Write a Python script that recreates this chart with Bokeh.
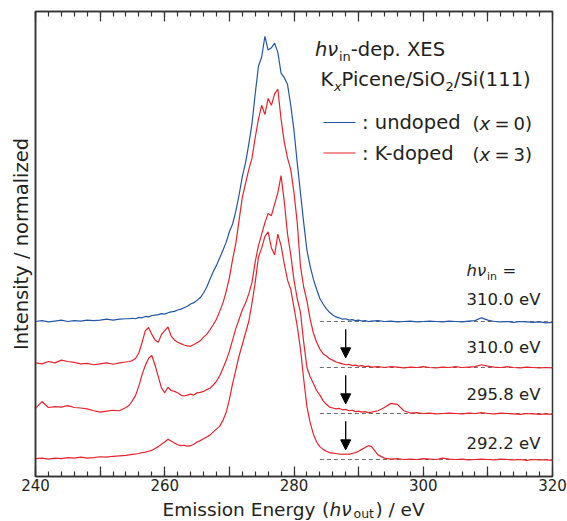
import numpy as np
from bokeh.plotting import figure
from bokeh.layouts import column
from bokeh.models import (Range1d, LinearAxis, SingleIntervalTicker, FixedTicker, Label,
                          Arrow, NormalHead)
from bokeh.embed import file_html
from bokeh.resources import INLINE

# ---------------- data ----------------
# emission energy grid (eV)
energy = np.concatenate([np.arange(240.0, 254.01, 1.0),
                         np.arange(254.5, 292.01, 0.5),
                         np.arange(293.0, 320.01, 1.0)])

# intensities above each spectrum's own baseline (units = baseline spacing)
undoped_310 = (
    [0.00, 0.02, -0.01, 0.01, 0.03, 0.00, 0.02, 0.01, 0.03, 0.02, 0.03, 0.05, 0.03, 0.05, 0.06]
    + [0.06, 0.07, 0.06, 0.09, 0.08, 0.11, 0.10, 0.13, 0.14, 0.15,
       0.17, 0.16, 0.19, 0.21, 0.22, 0.25, 0.27, 0.30, 0.33, 0.38,
       0.41, 0.46, 0.52, 0.62, 0.75, 0.92, 1.08, 1.22, 1.38, 1.55,
       1.72, 1.95, 2.12, 2.40, 2.75, 3.15, 3.45, 3.85, 4.30, 4.95,
       5.55, 5.75, 6.20, 5.90, 5.95, 6.05, 5.85, 5.40, 5.30, 5.15,
       4.70, 4.15, 3.45, 2.80, 2.15, 1.55, 1.20, 0.92, 0.70, 0.50,
       0.38, 0.28, 0.20, 0.14, 0.10, 0.08, 0.05, 0.06, 0.03, 0.04,
       0.02, 0.03, 0.01, 0.02, 0.00, 0.01]
    + [0.02, 0.00, 0.01, -0.01, 0.00, 0.01, -0.01, 0.00, 0.01, 0.00, -0.01, 0.01, 0.00, -0.01,
       0.01, 0.02, 0.08, 0.03, 0.00, -0.01, 0.00, -0.02, 0.00, -0.01, -0.02, -0.01, -0.03, -0.02]
)
doped_310 = (
    [0.10, 0.08, 0.13, 0.10, 0.16, 0.13, 0.11, 0.08, 0.09, 0.06, 0.08, 0.10, 0.07, 0.10, 0.12]
    + [0.13, 0.15, 0.20, 0.32, 0.55, 0.80, 0.87, 0.72, 0.60, 0.55,
       0.72, 0.80, 0.88, 0.68, 0.60, 0.55, 0.52, 0.49, 0.47, 0.46,
       0.50, 0.54, 0.58, 0.66, 0.72, 0.82, 0.93, 1.05, 1.22, 1.40,
       1.65, 1.95, 2.35, 2.70, 3.20, 3.70, 4.00, 4.30, 4.55, 5.00,
       5.40, 5.70, 5.50, 5.85, 5.70, 5.95, 6.05, 5.40, 4.90, 4.55,
       4.30, 3.80, 3.15, 2.20, 1.75, 1.45, 1.05, 0.75, 0.55, 0.40,
       0.30, 0.25, 0.19, 0.16, 0.12, 0.10, 0.08, 0.06, 0.07, 0.04,
       0.05, 0.03, 0.04, 0.02, 0.03, 0.01]
    + [0.02, 0.00, 0.02, 0.01, -0.01, 0.01, 0.00, 0.02, 0.00, -0.01, 0.01, 0.00, 0.02, 0.00,
       0.01, 0.02, 0.06, 0.03, 0.01, 0.00, 0.02, 0.00, -0.01, 0.01, 0.00, -0.01, 0.00, -0.01]
)
doped_2958 = (
    [0.11, 0.26, 0.13, 0.15, 0.14, 0.17, 0.13, 0.12, 0.10, 0.06, 0.03, 0.05, 0.07, 0.06, 0.13]
    + [0.18, 0.28, 0.40, 0.60, 0.85, 1.05, 1.20, 1.26, 1.05, 0.80,
       0.55, 0.45, 0.57, 0.50, 0.48, 0.45, 0.40, 0.38, 0.40, 0.42,
       0.40, 0.45, 0.46, 0.48, 0.52, 0.55, 0.62, 0.70, 0.82, 0.98,
       1.15, 1.35, 1.60, 1.85, 2.05, 2.25, 2.40, 2.60, 2.85, 3.30,
       3.65, 3.90, 4.15, 4.35, 4.30, 4.55, 4.80, 5.17, 4.60, 3.90,
       3.45, 2.90, 2.50, 2.20, 1.55, 1.00, 0.80, 0.65, 0.50, 0.40,
       0.28, 0.20, 0.14, 0.12, 0.10, 0.11, 0.08, 0.09, 0.06, 0.07,
       0.04, 0.05, 0.03, 0.04, 0.02, 0.03]
    + [0.06, 0.13, 0.22, 0.20, 0.06, 0.01, 0.02, 0.00, 0.01, -0.01, 0.00, 0.01, 0.00, -0.01,
       0.01, 0.00, 0.02, 0.00, -0.01, 0.01, 0.00, -0.01, -0.02, 0.00, -0.01, -0.02, -0.01, -0.02]
)
doped_2922 = (
    [0.02, 0.03, 0.01, 0.03, 0.02, 0.04, 0.03, 0.05, 0.03, 0.04, 0.06, 0.05, 0.07, 0.08, 0.09]
    + [0.10, 0.11, 0.12, 0.13, 0.15, 0.16, 0.18, 0.20, 0.24, 0.28,
       0.33, 0.38, 0.44, 0.40, 0.36, 0.32, 0.30, 0.31, 0.29, 0.30,
       0.33, 0.38, 0.41, 0.45, 0.49, 0.53, 0.60, 0.66, 0.72, 0.85,
       1.02, 1.30, 1.65, 1.95, 2.25, 2.50, 2.75, 3.00, 3.40, 3.85,
       4.40, 4.60, 4.85, 4.95, 4.60, 4.45, 4.90, 4.65, 4.25, 3.90,
       3.70, 3.30, 2.90, 2.40, 1.75, 1.15, 0.80, 0.55, 0.38, 0.28,
       0.22, 0.18, 0.15, 0.14, 0.13, 0.12, 0.11, 0.12, 0.11, 0.13,
       0.15, 0.18, 0.22, 0.26, 0.30, 0.28]
    + [0.10, 0.03, 0.01, 0.02, 0.00, 0.01, 0.00, 0.02, 0.01, 0.00, 0.03, 0.01, 0.00, 0.01,
       -0.01, 0.00, 0.01, 0.00, -0.01, 0.01, 0.00, -0.01, 0.00, -0.02, 0.00, -0.01, -0.01, -0.02]
)

series = [undoped_310, doped_310, doped_2958, doped_2922]
offsets = [3, 2, 1, 0]
hv_in_labels = ["310.0 eV", "310.0 eV", "295.8 eV", "292.2 eV"]
arrow_energy = 288.0
baseline_start = 284.0
x_ticks_labelled = [240, 260, 280, 300, 320]

for s in series:
    assert len(s) == len(energy), (len(s), len(energy))

# ---------------- styling ----------------
BLUE = "#2356a8"
RED = "#e8232b"
TXT = "#231f20"
FRAME = "#333333"
FONT = "DejaVu Sans"
BASE_SHIFT = 0.36       # rendered baseline sits this many em below the anchor

W, H = 567, 521
MAIN_H = 498            # main figure height; a strip below holds the x title
FL, FR, FT, FB = 35, 552, 11, 476
X0, X1 = 240.0, 320.0
Y0, Y1 = -17 / 46.0, 448 / 46.0


def dx(px):
    return X0 + (px - FL) / (FR - FL) * (X1 - X0)


def dy(py):
    return Y0 + (FB - py) / (FB - FT) * (Y1 - Y0)


p = figure(width=W, height=MAIN_H, x_range=Range1d(X0, X1), y_range=Range1d(Y0, Y1),
           output_backend="svg", toolbar_location=None, title=None,
           min_border_left=FL, min_border_right=W - FR, min_border_top=FT,
           min_border_bottom=MAIN_H - FB)
p.xgrid.visible = False
p.ygrid.visible = False
p.outline_line_color = FRAME
p.outline_line_width = 1.5
p.background_fill_color = "white"
p.border_fill_color = "white"

# bottom axis
ax = p.xaxis[0]
ax.ticker = SingleIntervalTicker(interval=10, num_minor_ticks=5)
ax.major_label_overrides = {v: "" for v in range(240, 321, 10) if v not in x_ticks_labelled}
ax.axis_line_color = FRAME
ax.axis_line_width = 1.5
ax.major_tick_in = 10
ax.major_tick_out = 0
ax.minor_tick_in = 5
ax.minor_tick_out = 0
ax.major_tick_line_color = FRAME
ax.minor_tick_line_color = FRAME
ax.major_tick_line_width = 1.2
ax.minor_tick_line_width = 1.2
ax.major_label_text_font = FONT
ax.major_label_text_font_size = "15px"
ax.major_label_text_color = TXT
ax.major_label_standoff = 2

# left axis: only the title
yax = p.yaxis[0]
yax.ticker = FixedTicker(ticks=[])
yax.axis_line_color = FRAME
yax.axis_line_width = 1.5
yax.major_tick_in = 0
yax.major_tick_out = 0
yax.minor_tick_in = 0
yax.minor_tick_out = 0
yax.major_label_standoff = 0
yax.axis_label = "Intensity / normalized"
yax.axis_label_text_font = FONT
yax.axis_label_text_font_size = "19.5px"
yax.axis_label_text_font_style = "normal"
yax.axis_label_text_color = TXT
yax.axis_label_standoff = 3

# top axis: ticks only
top = LinearAxis(ticker=SingleIntervalTicker(interval=10, num_minor_ticks=5))
top.axis_line_color = FRAME
top.axis_line_width = 1.5
top.major_tick_in = 10
top.major_tick_out = 0
top.minor_tick_in = 5
top.minor_tick_out = 0
top.major_tick_line_color = FRAME
top.minor_tick_line_color = FRAME
top.major_tick_line_width = 1.2
top.minor_tick_line_width = 1.2
top.major_label_text_font_size = "1px"
top.major_label_text_color = None
top.major_label_standoff = 0
p.add_layout(top, "above")

# dashed baselines
p.segment(x0=baseline_start, y0=offsets, x1=X1, y1=offsets,
          line_color="#6d6d6d", line_dash="4 3", line_width=1)

# spectra
colors = [BLUE, RED, RED, RED]
for s, off, c in zip(series, offsets, colors):
    p.line(energy, np.array(s) + off, line_color=c, line_width=1.2)

# arrows on the K-doped spectra
for off in offsets[1:]:
    p.add_layout(Arrow(end=NormalHead(size=10, fill_color="black", line_color="black"),
                       x_start=arrow_energy, y_start=off + 0.83,
                       x_end=arrow_energy, y_end=off + 0.21,
                       line_color="black", line_width=1.3))


def lab(fig, text, x, y, size, italic=False, align="left"):
    fig.add_layout(Label(x=x, y=y, text=text, text_font=FONT,
                         text_font_size=f"{size}px",
                         text_font_style="italic" if italic else "normal",
                         text_align=align, text_baseline="alphabetic", text_color=TXT))


def plab(text, px, py, size, italic=False, align="left"):
    # py = wanted baseline on the page
    lab(p, text, dx(px), dy(py - BASE_SHIFT * size), size, italic, align)


# title lines
plab("h\u03bd", 314.5, 56, 19.5, italic=True)
plab("in", 338.4, 60.5, 13)
plab("-dep. XES", 350.3, 56, 19.5)
plab("K", 320, 86, 19.5)
plab("x", 333.4, 90.5, 13, italic=True)
plab("Picene/SiO", 341.1, 86, 19.5)
plab("2", 445.1, 90.5, 13)
plab("/Si(111)", 453.4, 86, 19.5)

# legend
p.segment(x0=[dx(323), dx(323)], y0=[dy(122), dy(152.5)],
          x1=[dx(355), dx(355)], y1=[dy(122), dy(152.5)],
          line_color=[BLUE, RED], line_width=1.2)
for py, word, num in [(129.5, ": undoped", "0"), (160, ": K-doped", "3")]:
    plab(word, 361.5, py, 19.5)
    plab("(", 472, py, 18)
    plab("x", 479, py, 18, italic=True)
    plab("=", 494, py, 18)
    plab(num + ")", 513, py, 18)

# hv_in labels on the right
plab("h\u03bd", 466, 276, 16.5, italic=True)
plab("in", 486.5, 280, 11)
plab("=", 502, 276, 16.5)
for txt, py in zip(hv_in_labels, [305, 353, 400, 449]):
    plab(txt, 540, py, 16.5, align="right")

# strip below the main figure carrying the x-axis title (frame aligned with the main one)
SH = H - MAIN_H
q = figure(width=W, height=SH, x_range=Range1d(X0, X1), y_range=Range1d(0, SH),
           output_backend="svg", toolbar_location=None, title=None,
           min_border_left=FL, min_border_right=W - FR, min_border_top=0, min_border_bottom=0,
           x_axis_location=None, y_axis_location=None)
q.outline_line_color = None
q.grid.visible = False
q.background_fill_color = "white"
q.border_fill_color = "white"


def qlab(text, px, py, size, italic=False):
    lab(q, text, dx(px), H - (py - BASE_SHIFT * size), size, italic)


TB = 516.0   # wanted baseline of the x title (page pixels)
qlab("Emission Energy", 162, TB, 18.5)
qlab("(", 321.5, TB, 18.5)
qlab("h\u03bd", 329, TB, 18.5, italic=True)
qlab("out", 353, TB + 1.5, 12.5)
qlab(")", 375, TB, 18.5)
qlab("/ eV", 388, TB, 18.5)

layout = column(p, q, spacing=0)
open("out.html", "w").write(file_html(layout, INLINE))
